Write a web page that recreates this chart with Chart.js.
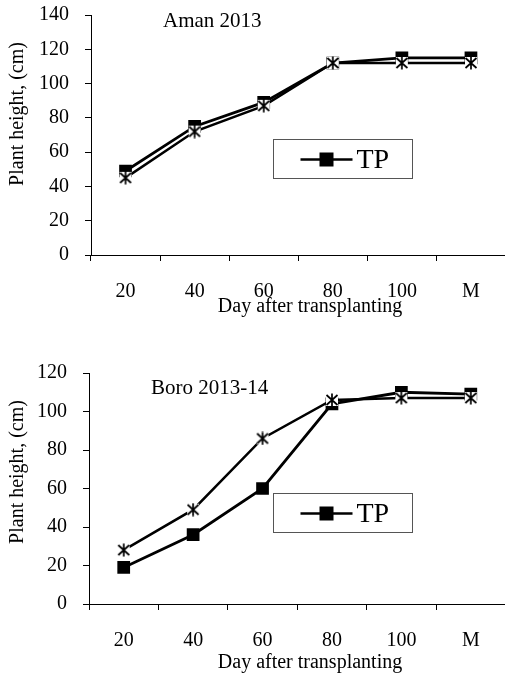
<!DOCTYPE html>
<html>
<head>
<meta charset="utf-8">
<script src="https://cdn.jsdelivr.net/npm/chart.js@4.4.1/dist/chart.umd.min.js"></script>
<style>
  html, body { margin: 0; padding: 0; background: #fff; overflow: hidden; }
  .panel { position: absolute; left: 0; width: 515px; }
  #amanPanel { top: 0; height: 325px; }
  #boroPanel { top: 325px; height: 352px; }
</style>
</head>
<body>
<div class="panel" id="amanPanel"><canvas id="amanChart" width="515" height="325"></canvas></div>
<div class="panel" id="boroPanel"><canvas id="boroChart" width="515" height="352"></canvas></div>
<script>
const DAYS = ['20', '40', '60', '80', '100', 'M'];

const AMAN_TP = [49, 75, 89, 112, 115, 115];
const AMAN_DS = [45, 72, 87, 112, 112, 112];

const BORO_TP = [19, 36, 60, 104, 110, 109];
const BORO_DS = [28, 49, 86, 106, 107, 107];

const X_TITLE = 'Day after transplanting';
const Y_TITLE = 'Plant height, (cm)';

const FONT = '"Liberation Serif", "Times New Roman", serif';

// excel style star marker: white box with an asterisk in it
function starMarker(size) {
  const c = document.createElement('canvas');
  c.width = size;
  c.height = size;
  const g = c.getContext('2d');
  const m = size / 2;
  g.fillStyle = '#fff';
  g.fillRect(1, 1, size - 2, size - 2);
  g.strokeStyle = '#000';
  g.lineWidth = 1.7;
  g.beginPath();
  g.moveTo(m, 0.5); g.lineTo(m, size - 0.5);
  g.moveTo(1.5, 2); g.lineTo(size - 1.5, size - 2);
  g.moveTo(size - 1.5, 2); g.lineTo(1.5, size - 2);
  g.stroke();
  return c;
}

// panel title, axis titles (off-centre in the original) and the small TP legend
const panelDecor = {
  id: 'panelDecor',
  afterDraw(chart, args, opts) {
    const { ctx, chartArea: a } = chart;
    const tp = chart.data.datasets.find((d) => d.inLegend);
    ctx.save();
    ctx.fillStyle = '#000';
    ctx.font = `21px ${FONT}`;
    ctx.textBaseline = 'alphabetic';
    ctx.textAlign = 'left';
    ctx.fillText(opts.title, a.left + opts.titleX, a.top + opts.titleY);

    ctx.font = `20px ${FONT}`;
    ctx.textAlign = 'center';
    ctx.textBaseline = 'middle';
    ctx.fillText(X_TITLE, opts.xTitle[0], opts.xTitle[1]);
    ctx.save();
    ctx.translate(opts.yTitle[0], opts.yTitle[1]);
    ctx.rotate(-Math.PI / 2);
    ctx.fillText(Y_TITLE, 0, 0);
    ctx.restore();

    const bx = Math.round(a.left + opts.legendX * (a.right - a.left)) + 0.5;
    const by = Math.round(a.top + opts.legendY * (a.bottom - a.top)) + 0.5;
    ctx.fillStyle = '#fff';
    ctx.fillRect(bx, by, 139, 39);
    ctx.strokeStyle = '#555';
    ctx.lineWidth = 1;
    ctx.strokeRect(bx, by, 139, 39);
    const cy = by + 20;
    ctx.strokeStyle = '#000';
    ctx.lineWidth = 2.5;
    ctx.beginPath();
    ctx.moveTo(bx + 27, cy);
    ctx.lineTo(bx + 79, cy);
    ctx.stroke();
    ctx.fillStyle = '#000';
    ctx.fillRect(bx + 46, cy - 7, 14, 14);
    ctx.font = `28px ${FONT}`;
    ctx.textAlign = 'left';
    ctx.fillText(tp.label, bx + 83, cy + 1);
    ctx.restore();
  }
};

function buildChart(canvasId, tpData, dsData, cfg) {
  const canvas = document.getElementById(canvasId);
  return new Chart(canvas, {
    type: 'line',
    data: {
      labels: DAYS,
      datasets: [
        {
          label: 'TP',
          inLegend: true,
          data: tpData,
          borderColor: '#000',
          backgroundColor: '#000',
          borderWidth: 2.8,
          pointStyle: 'rect',
          pointRadius: 9,
          pointBorderWidth: 0,
          tension: 0,
          order: 1
        },
        {
          label: 'DS',
          data: dsData,
          borderColor: '#000',
          backgroundColor: '#000',
          borderWidth: 2.5,
          pointStyle: starMarker(14),
          pointRadius: 7,
          tension: 0,
          order: 0
        }
      ]
    },
    options: {
      responsive: false,
      animation: false,
      layout: { padding: { top: cfg.padTop, left: 0, right: 0, bottom: 0 } },
      plugins: {
        legend: { display: false },
        tooltip: { enabled: false },
        panelDecor: cfg.decor
      },
      scales: {
        x: {
          offset: true,
          grid: { display: true, drawOnChartArea: false, offset: true, tickLength: 6, color: '#000', tickColor: '#000' },
          border: { color: '#000', width: 1 },
          ticks: { color: '#000', padding: 19, font: { family: FONT, size: 20 }, maxRotation: 0 },
          title: { display: false },
          afterFit: (scale) => {
            scale.height = cfg.xHeight;
            scale.paddingLeft = 0;
            scale.paddingRight = 0;
          }
        },
        y: {
          min: 0,
          max: cfg.yMax,
          grid: { display: true, drawOnChartArea: false, tickLength: 6, color: '#000', tickColor: '#000' },
          border: { color: '#000', width: 1 },
          ticks: { stepSize: 20, color: '#000', padding: 16, font: { family: FONT, size: 20 } },
          title: { display: false },
          afterFit: (scale) => {
            scale.width = cfg.yWidth;
            scale.paddingTop = 0;
            scale.paddingBottom = 0;
          }
        }
      }
    },
    plugins: [panelDecor]
  });
}

buildChart('amanChart', AMAN_TP, AMAN_DS, {
  padTop: 15, yMax: 140, xHeight: 70, yWidth: 91,
  decor: {
    title: 'Aman 2013', titleX: 72, titleY: 12, legendX: 0.44, legendY: 0.517,
    xTitle: [310, 307], yTitle: [18, 114]
  }
});

buildChart('boroChart', BORO_TP, BORO_DS, {
  padTop: 48, yMax: 120, xHeight: 73, yWidth: 89,
  decor: {
    title: 'Boro 2013-14', titleX: 62, titleY: 21, legendX: 0.442, legendY: 0.52,
    xTitle: [310, 338], yTitle: [18, 147]
  }
});
</script>
</body>
</html>
